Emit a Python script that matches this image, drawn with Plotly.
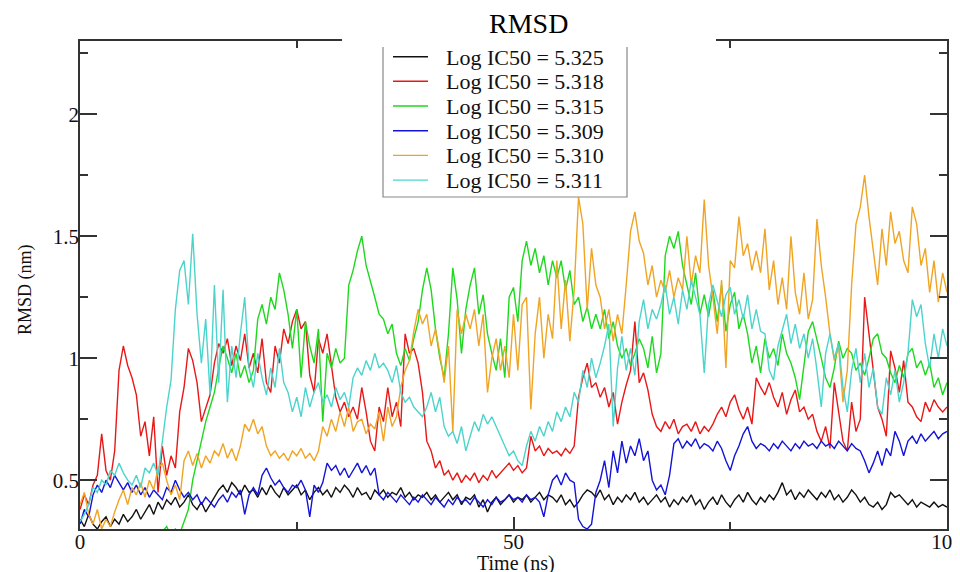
import numpy as np
import plotly.graph_objects as go

# sampling times (ns), 0.5 ns step
time_ns = np.linspace(0, 100, 201)

labels = ["Log IC50 = 5.325", "Log IC50 = 5.318", "Log IC50 = 5.315",
          "Log IC50 = 5.309", "Log IC50 = 5.310", "Log IC50 = 5.311"]

rmsd_5325 = [
    0.34,0.31,0.36,0.32,0.30,0.33,0.35,0.31,0.34,0.32,
    0.36,0.33,0.35,0.38,0.34,0.37,0.40,0.36,0.41,0.38,
    0.42,0.40,0.43,0.39,0.41,0.44,0.40,0.38,0.41,0.37,
    0.40,0.43,0.46,0.48,0.45,0.49,0.47,0.44,0.48,0.45,
    0.46,0.43,0.47,0.44,0.48,0.45,0.43,0.47,0.44,0.46,
    0.48,0.44,0.46,0.42,0.45,0.47,0.44,0.46,0.43,0.47,
    0.45,0.48,0.46,0.43,0.47,0.44,0.45,0.42,0.46,0.44,
    0.46,0.43,0.45,0.44,0.47,0.43,0.45,0.42,0.44,0.43,
    0.45,0.42,0.44,0.41,0.43,0.45,0.42,0.44,0.40,0.43,
    0.42,0.44,0.39,0.42,0.37,0.41,0.43,0.40,0.42,0.44,
    0.41,0.43,0.42,0.44,0.41,0.43,0.45,0.42,0.44,0.43,
    0.41,0.44,0.40,0.42,0.39,0.41,0.44,0.46,0.45,0.43,
    0.46,0.42,0.44,0.40,0.43,0.41,0.44,0.42,0.45,0.41,
    0.43,0.40,0.42,0.44,0.41,0.43,0.39,0.42,0.40,0.43,
    0.41,0.44,0.40,0.42,0.38,0.41,0.43,0.40,0.44,0.41,
    0.39,0.42,0.44,0.41,0.45,0.42,0.40,0.43,0.41,0.44,
    0.42,0.45,0.49,0.44,0.46,0.42,0.45,0.43,0.46,0.44,
    0.42,0.45,0.43,0.46,0.42,0.44,0.41,0.43,0.46,0.44,
    0.41,0.43,0.40,0.39,0.41,0.38,0.40,0.45,0.43,0.44,
    0.42,0.40,0.42,0.39,0.41,0.40,0.39,0.41,0.39,0.40,
    0.39]

rmsd_5318 = [
    0.38,0.44,0.40,0.48,0.52,0.69,0.54,0.50,0.62,0.95,
    1.05,0.97,0.92,0.85,0.68,0.74,0.60,0.76,0.45,0.64,
    0.52,0.60,0.55,0.78,0.88,1.04,0.99,0.90,0.74,0.80,
    0.85,0.98,1.06,1.02,1.08,0.97,1.05,0.99,1.10,0.96,
    1.02,0.94,1.08,0.90,0.86,1.05,0.98,1.12,1.06,1.15,
    1.20,1.12,1.15,0.93,0.86,1.08,1.02,1.10,0.98,0.84,
    0.78,0.82,0.76,0.80,0.75,0.88,0.78,0.66,0.62,0.80,
    0.74,0.88,0.76,0.82,0.72,1.10,1.02,1.04,0.98,0.86,
    0.66,0.62,0.55,0.58,0.52,0.54,0.50,0.53,0.49,0.52,
    0.50,0.53,0.49,0.52,0.50,0.54,0.51,0.53,0.55,0.57,
    0.54,0.56,0.53,0.55,0.68,0.62,0.64,0.60,0.63,0.61,
    0.62,0.60,0.63,0.61,0.64,0.84,0.92,0.98,0.88,0.90,
    0.84,0.88,0.80,0.86,0.73,0.82,0.89,0.95,1.15,0.90,
    0.94,0.87,0.77,0.72,0.70,0.74,0.71,0.75,0.69,0.72,
    0.73,0.70,0.74,0.69,0.72,0.70,0.73,0.77,0.80,0.76,
    0.82,0.85,0.79,0.75,0.80,0.73,0.92,0.88,0.85,0.90,
    0.84,0.80,0.86,0.77,0.83,0.87,0.78,0.80,0.75,0.77,
    0.70,0.66,0.72,0.63,0.90,0.78,0.66,0.62,0.82,0.70,
    0.75,1.25,1.10,0.95,0.80,0.75,0.68,1.03,0.96,0.86,
    0.99,0.82,0.80,0.76,0.74,0.82,0.78,0.83,0.80,0.78,
    0.80]

rmsd_5315 = [
    0.25,0.22,0.27,0.24,0.21,0.26,0.23,0.25,0.22,0.24,
    0.21,0.25,0.23,0.26,0.22,0.24,0.27,0.23,0.26,0.29,
    0.31,0.27,0.30,0.28,0.33,0.38,0.50,0.58,0.66,0.74,
    0.80,0.86,0.96,1.05,1.00,0.94,1.02,0.92,0.97,0.90,
    0.95,1.16,1.22,1.14,1.25,1.20,1.35,1.28,1.18,1.04,
    1.20,0.92,1.15,1.05,0.98,1.12,0.74,1.02,0.96,1.04,
    0.98,1.00,1.30,1.36,1.44,1.50,1.38,1.32,1.25,1.18,
    1.16,1.10,1.14,1.02,0.97,1.04,0.99,1.08,1.15,1.28,
    1.37,1.28,1.12,1.00,0.92,1.10,1.37,1.24,1.02,1.20,
    1.30,1.37,1.18,1.26,1.10,1.02,0.95,1.08,0.92,1.25,
    1.29,1.15,1.40,1.48,1.38,1.45,1.35,1.42,1.30,1.40,
    1.33,1.40,1.28,1.36,1.22,1.25,1.15,1.21,1.12,1.18,
    1.12,1.20,1.08,1.15,1.05,1.00,1.04,0.97,1.02,1.08,
    1.04,0.96,1.09,0.94,1.02,1.42,1.50,1.45,1.52,1.38,
    1.30,1.22,1.35,1.18,1.26,1.17,1.28,1.15,1.30,1.11,
    1.22,1.27,1.12,1.18,1.10,0.98,1.05,0.94,1.08,1.00,
    1.04,0.97,1.10,1.02,0.98,0.92,0.83,0.96,1.11,1.15,
    1.08,1.00,0.92,0.88,0.96,1.07,1.00,1.04,1.02,0.95,
    0.98,0.93,1.00,1.08,1.10,1.02,1.00,0.94,0.90,0.97,
    0.92,1.02,1.04,0.96,0.99,0.93,0.98,0.88,0.92,0.85,
    0.90]

rmsd_5309 = [
    0.32,0.38,0.35,0.44,0.48,0.45,0.50,0.47,0.52,0.49,
    0.46,0.49,0.45,0.48,0.44,0.47,0.43,0.46,0.44,0.42,
    0.47,0.45,0.50,0.46,0.43,0.45,0.42,0.44,0.40,0.43,
    0.41,0.39,0.42,0.44,0.41,0.45,0.43,0.46,0.36,0.44,
    0.47,0.44,0.52,0.55,0.51,0.48,0.50,0.47,0.45,0.48,
    0.47,0.50,0.46,0.35,0.48,0.45,0.49,0.57,0.54,0.56,
    0.52,0.55,0.51,0.54,0.57,0.53,0.56,0.52,0.55,0.44,
    0.42,0.45,0.43,0.41,0.44,0.42,0.40,0.43,0.41,0.44,
    0.42,0.40,0.43,0.41,0.39,0.42,0.40,0.43,0.41,0.42,
    0.40,0.43,0.41,0.39,0.42,0.40,0.43,0.41,0.42,0.44,
    0.42,0.43,0.41,0.44,0.42,0.43,0.41,0.35,0.44,0.50,
    0.52,0.48,0.53,0.50,0.49,0.34,0.31,0.30,0.32,0.45,
    0.50,0.58,0.47,0.62,0.53,0.66,0.57,0.64,0.60,0.67,
    0.58,0.62,0.50,0.46,0.48,0.44,0.52,0.65,0.67,0.63,
    0.66,0.64,0.67,0.63,0.65,0.64,0.62,0.66,0.63,0.58,
    0.54,0.60,0.64,0.69,0.72,0.66,0.63,0.65,0.64,0.62,
    0.65,0.63,0.66,0.64,0.62,0.65,0.63,0.66,0.64,0.65,
    0.63,0.66,0.64,0.65,0.63,0.66,0.64,0.62,0.65,0.63,
    0.62,0.58,0.53,0.57,0.62,0.56,0.63,0.60,0.70,0.66,
    0.60,0.66,0.68,0.65,0.69,0.66,0.68,0.70,0.67,0.69,
    0.70]

rmsd_5310 = [
    0.40,0.45,0.36,0.32,0.38,0.30,0.34,0.31,0.37,0.42,
    0.46,0.40,0.47,0.44,0.49,0.43,0.50,0.46,0.55,0.57,
    0.50,0.44,0.48,0.42,0.58,0.62,0.56,0.61,0.55,0.60,
    0.57,0.62,0.60,0.65,0.59,0.63,0.58,0.64,0.73,0.70,
    0.75,0.69,0.72,0.64,0.60,0.62,0.59,0.61,0.58,0.62,
    0.60,0.63,0.59,0.61,0.58,0.62,0.72,0.68,0.75,0.70,
    0.78,0.72,0.80,0.70,0.74,0.75,0.69,0.73,0.71,0.78,
    0.66,0.80,0.72,0.76,0.88,0.95,0.99,1.11,1.20,1.14,
    1.18,1.05,1.12,1.02,0.90,1.05,0.70,1.20,1.10,1.18,
    1.12,1.20,1.05,1.18,0.86,1.00,1.08,0.95,1.05,0.92,
    1.18,0.95,1.22,1.25,0.79,1.10,1.25,1.00,1.18,1.08,
    1.40,1.12,1.32,1.07,1.28,1.66,1.55,1.20,1.45,1.30,
    1.25,1.12,1.20,1.07,1.18,1.10,1.30,1.52,1.60,1.48,
    1.43,1.30,1.38,1.25,1.32,1.27,1.36,1.25,1.33,1.28,
    1.50,1.30,1.42,1.35,1.65,1.38,1.25,1.10,1.32,0.96,
    1.40,1.37,1.58,1.42,1.47,1.36,1.44,1.35,1.53,1.28,
    1.40,1.22,1.33,1.20,1.50,1.27,1.18,1.35,1.16,1.24,
    1.57,1.38,1.25,1.10,0.99,1.05,0.82,0.95,1.30,1.55,
    1.62,1.75,1.58,1.45,1.30,1.53,1.38,1.60,1.47,1.52,
    1.40,1.35,1.62,1.55,1.38,1.45,1.27,1.40,1.23,1.35,
    1.27]

rmsd_5311 = [
    0.33,0.36,0.40,0.47,0.45,0.50,0.48,0.54,0.52,0.57,
    0.53,0.50,0.48,0.52,0.47,0.55,0.53,0.57,0.52,0.66,
    0.80,0.91,1.20,1.36,1.40,1.22,1.51,1.18,0.98,1.16,
    0.85,1.30,0.90,1.28,0.82,1.05,0.92,1.10,1.25,0.96,
    0.88,1.02,0.92,0.85,0.96,0.88,1.04,0.90,0.86,0.78,
    0.84,0.76,0.88,0.80,0.86,0.90,0.82,0.85,0.80,0.88,
    0.83,0.86,0.80,0.92,0.96,0.93,0.99,0.95,1.02,0.96,
    0.98,0.95,0.90,0.97,0.86,0.82,0.84,0.80,0.78,0.76,
    0.80,0.86,0.78,0.84,0.72,0.68,0.70,0.65,0.72,0.62,
    0.68,0.74,0.70,0.77,0.73,0.76,0.72,0.68,0.64,0.60,
    0.62,0.58,0.56,0.64,0.70,0.66,0.72,0.68,0.74,0.70,
    0.78,0.74,0.80,0.76,0.86,0.82,0.95,0.88,1.00,0.92,
    0.98,1.05,1.14,0.72,0.96,1.09,0.95,1.04,0.93,1.15,
    1.24,1.12,1.20,1.16,1.22,1.30,1.18,1.25,1.14,1.28,
    1.20,1.32,1.25,1.18,0.94,1.22,1.30,1.24,1.17,1.26,
    1.29,1.18,1.24,1.16,1.26,1.12,1.20,1.11,1.10,0.95,
    0.91,1.05,1.12,1.18,1.06,1.14,1.04,1.10,1.00,1.08,
    0.95,0.80,1.02,1.10,1.00,1.06,0.88,0.78,0.95,1.04,
    0.90,1.02,0.88,0.96,0.80,0.77,0.92,0.85,0.95,0.82,
    0.90,1.02,1.24,1.17,1.22,1.06,0.96,1.10,1.00,1.12,
    1.05]

series = [rmsd_5325, rmsd_5318, rmsd_5315, rmsd_5309, rmsd_5310, rmsd_5311]
colors = ["#111111", "#e81818", "#1ed81e", "#1414d8", "#f0a424", "#4cd4cc"]

SERIF = "Liberation Serif, Times New Roman, serif"

# The page body has an 8 px margin, so the figure is drawn at (8, 8).
OFF = 8
W, H = 960 - OFF, 572 - OFF
# plot area in page pixels: x 80..947, y 41..529
L, R, T, B = 80 - OFF, 960 - 947, 41 - OFF, 572 - 529
PW, PH = W - L - R, H - T - B


def px_x(px):
    """page pixel x -> paper fraction"""
    return (px - OFF - L) / PW


def px_y(py):
    """page pixel y -> paper fraction"""
    return (H - B - (py - OFF)) / PH


fig = go.Figure()
for name, ys, col in zip(labels, series, colors):
    fig.add_trace(go.Scatter(x=time_ns, y=ys, mode="lines", name=name,
                             showlegend=False,
                             line=dict(color=col, width=1.4)))

fig.update_layout(
    width=W, height=H,
    margin=dict(l=L, r=R, t=T, b=B, autoexpand=False),
    paper_bgcolor="white", plot_bgcolor="white",
    font=dict(family=SERIF, color="#111", size=21),
    showlegend=False,
)

fig.update_xaxes(
    range=[0, 100], tickvals=[0, 50, 100], ticktext=["0", "50", "100"],
    ticks="inside", ticklen=12, tickwidth=1.5, tickcolor="#333",
    minor=dict(tickvals=[25, 75], ticks="inside", ticklen=7, tickwidth=1.5, tickcolor="#333"),
    showline=True, linecolor="#333", linewidth=1.5, mirror="ticks",
    showgrid=False, zeroline=False, automargin=False,
    ticklabeloverflow="allow", ticklabelstandoff=-7,
    tickfont=dict(family=SERIF, size=21, color="#111"),
)
fig.update_yaxes(
    range=[0.3, 2.3], tickvals=[0.5, 1, 1.5, 2], ticktext=["0.5", "1", "1.5", "2"],
    ticks="inside", ticklen=17, tickwidth=1.5, tickcolor="#333",
    minor=dict(tickvals=[0.75, 1.25, 1.75, 2.25], ticks="inside", ticklen=8, tickwidth=1.5, tickcolor="#333"),
    showline=True, linecolor="#333", linewidth=1.5, mirror="ticks",
    showgrid=False, zeroline=False, automargin=False,
    ticklabeloverflow="allow", ticklabelstandoff=-5,
    tickfont=dict(family=SERIF, size=21, color="#111"),
)

# legend box (drawn by hand to match the original's compact spacing)
leg_x0, leg_x1, leg_top, leg_bot = 383, 627, 46, 197
fig.add_shape(type="rect", xref="paper", yref="paper",
              x0=px_x(leg_x0), x1=px_x(leg_x1), y0=px_y(leg_bot), y1=px_y(leg_top),
              fillcolor="white", line=dict(color="#888", width=1.2), layer="above")
row_y = [56.7, 81.3, 106.0, 130.7, 155.4, 180.1]
for name, col, ry in zip(labels, colors, row_y):
    fig.add_shape(type="line", xref="paper", yref="paper",
                  x0=px_x(393), x1=px_x(428), y0=px_y(ry), y1=px_y(ry),
                  line=dict(color=col, width=1.4), layer="above")
    fig.add_annotation(text=name, xref="paper", yref="paper",
                       x=px_x(444), y=px_y(ry + 0.5), xanchor="left", yanchor="middle",
                       showarrow=False, font=dict(family=SERIF, size=22, color="#111"))

# white box behind the title that interrupts the top frame
fig.add_shape(type="rect", xref="paper", yref="paper",
              x0=px_x(342), x1=px_x(716), y0=px_y(47), y1=px_y(OFF),
              fillcolor="white", line=dict(width=0), layer="above")

# title and axis titles
fig.add_annotation(text="RMSD", xref="paper", yref="paper",
                   x=px_x(528), y=px_y(24), xanchor="center", yanchor="middle",
                   showarrow=False, font=dict(family=SERIF, size=28, color="#000"))
fig.add_annotation(text="RMSD (nm)", xref="paper", yref="paper", textangle=-90,
                   x=px_x(25), y=px_y(290), xanchor="center", yanchor="middle",
                   showarrow=False, font=dict(family=SERIF, size=18, color="#111"))
fig.add_annotation(text="Time (ns)", xref="paper", yref="paper",
                   x=px_x(516), y=px_y(563), xanchor="center", yanchor="middle",
                   showarrow=False, font=dict(family=SERIF, size=20, color="#111"))

fig.write_html("out.html")
